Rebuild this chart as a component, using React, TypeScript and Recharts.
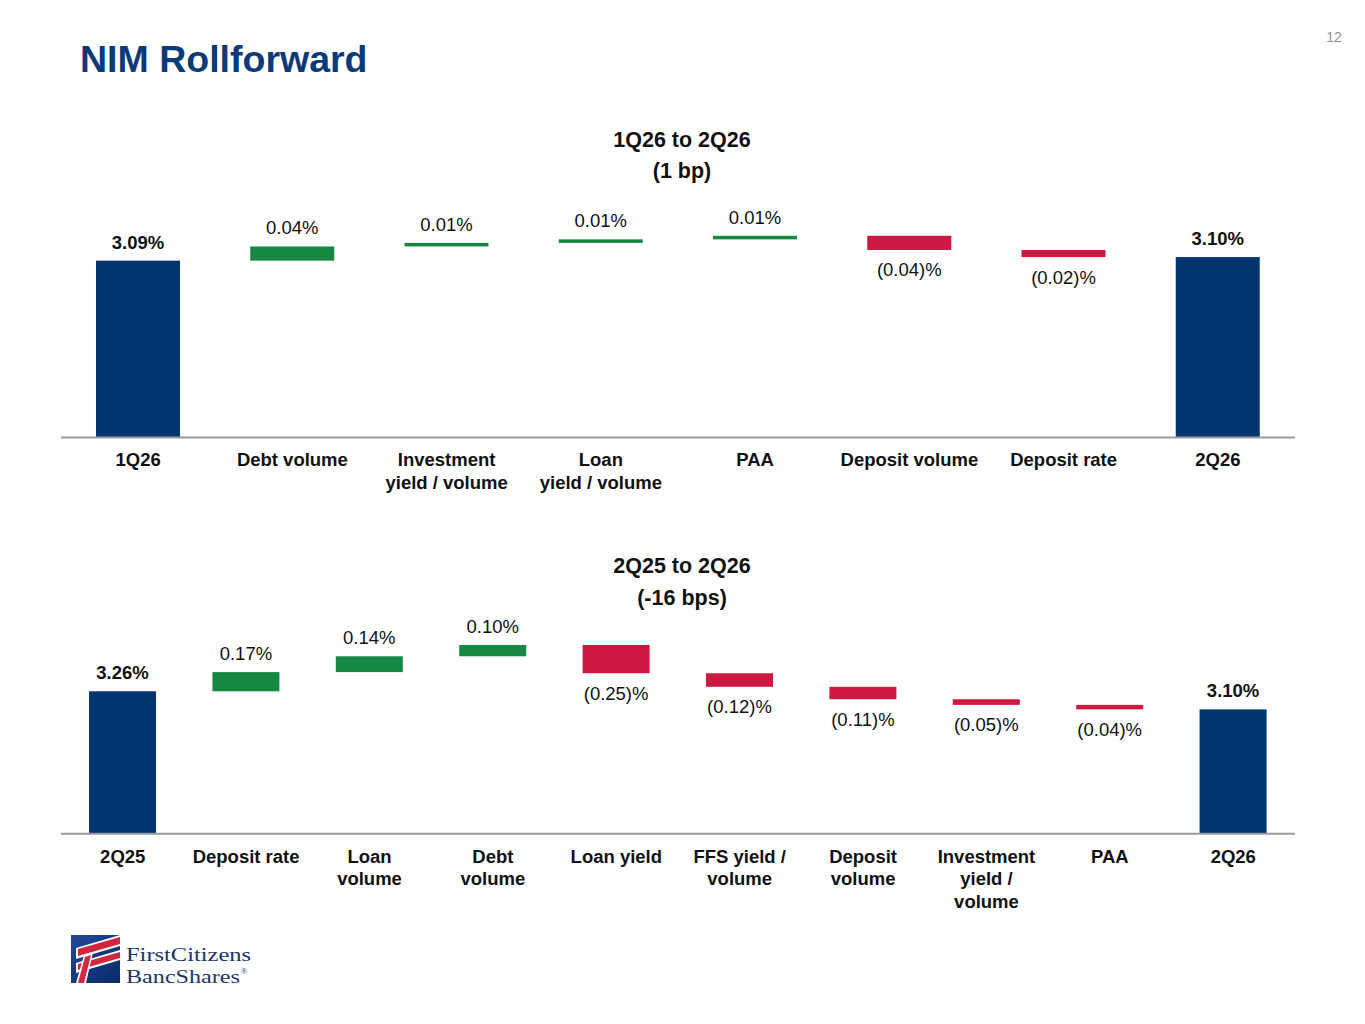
import React from "react";
import { BarChart, Bar, XAxis, YAxis } from "recharts";

const NAVY = "#003470";
const GREEN = "#178744";
const RED = "#CE1A42";
const TITLE_BLUE = "#0B3A78";
const FONT = '"Liberation Sans", Arial, Helvetica, sans-serif';

// 1Q26 to 2Q26
const qoqCategories = [
  "1Q26",
  "Debt volume",
  "Investment\nyield / volume",
  "Loan\nyield / volume",
  "PAA",
  "Deposit volume",
  "Deposit rate",
  "2Q26",
];
const qoqValues = [3.09, 0.04, 0.01, 0.01, 0.01, -0.04, -0.02, 3.1];
const qoqIsTotal = [true, false, false, false, false, false, false, true];

// 2Q25 to 2Q26
const yoyCategories = [
  "2Q25",
  "Deposit rate",
  "Loan\nvolume",
  "Debt\nvolume",
  "Loan yield",
  "FFS yield /\nvolume",
  "Deposit\nvolume",
  "Investment\nyield /\nvolume",
  "PAA",
  "2Q26",
];
const yoyValues = [3.26, 0.17, 0.14, 0.1, -0.25, -0.12, -0.11, -0.05, -0.04, 3.1];
const yoyIsTotal = [true, false, false, false, false, false, false, false, false, true];

type Step = {
  name: string;
  range: [number, number];
  kind: "total" | "up" | "down";
  label: string;
};

// running totals -> floating bars
const buildSteps = (cats: string[], vals: number[], isTotal: boolean[], yMin: number): Step[] => {
  let run = 0;
  return cats.map((name, i) => {
    const v = vals[i];
    if (isTotal[i]) {
      run = v;
      return { name, range: [yMin, v], kind: "total", label: `${v.toFixed(2)}%` };
    }
    const start = run;
    run = Math.round((run + v) * 10000) / 10000;
    return {
      name,
      range: [Math.min(start, run), Math.max(start, run)],
      kind: v >= 0 ? "up" : "down",
      label: v >= 0 ? `${v.toFixed(2)}%` : `(${Math.abs(v).toFixed(2)})%`,
    };
  });
};

const StepShape = (props: any) => {
  const { x, y, width, height, payload } = props;
  const top = Math.min(y, y + height);
  const h = Math.abs(height);
  const fill = payload.kind === "total" ? NAVY : payload.kind === "up" ? GREEN : RED;
  const below = payload.kind === "down";
  return (
    <g>
      <rect x={x} y={top} width={width} height={h} fill={fill} />
      <text
        x={x + width / 2}
        y={below ? top + h + 26.5 : top - 12}
        textAnchor="middle"
        fontFamily={FONT}
        fontSize={18.5}
        fontWeight={payload.kind === "total" ? 700 : 400}
        fill="#111"
      >
        {payload.label}
      </text>
    </g>
  );
};

const CategoryTick = (props: any) => {
  const { x, y, payload } = props;
  const lines = String(payload.value).split("\n");
  return (
    <text textAnchor="middle" fontFamily={FONT} fontSize={18.5} fontWeight={700} fill="#111">
      {lines.map((line, i) => (
        <tspan key={i} x={x} y={y + 29 + i * 22.8}>
          {line}
        </tspan>
      ))}
    </text>
  );
};

interface WaterfallProps {
  data: Step[];
  yMin: number;
  yMax: number;
  pxPerPct: number;
  baselineY: number;
  barSize: number;
}

const Waterfall = ({ data, yMin, yMax, pxPerPct, baselineY, barSize }: WaterfallProps) => {
  const plotH = (yMax - yMin) * pxPerPct;
  const marginTop = 20;
  const axisH = 100;
  return (
    <div style={{ position: "absolute", left: 0, top: baselineY - plotH - marginTop }}>
      <BarChart
        width={1365}
        height={marginTop + plotH + axisH}
        data={data}
        margin={{ top: marginTop, right: 70, bottom: 0, left: 61 }}
      >
        <XAxis
          dataKey="name"
          interval={0}
          tickLine={false}
          tickSize={0}
          tickMargin={0}
          axisLine={{ stroke: "#9b9b9b", strokeWidth: 2 }}
          tick={<CategoryTick />}
          height={axisH}
        />
        <YAxis hide type="number" domain={[yMin, yMax]} allowDataOverflow />
        <Bar dataKey="range" barSize={barSize} isAnimationActive={false} shape={<StepShape />} />
      </BarChart>
    </div>
  );
};

const Logo = () => (
  <g>
    <defs>
      <linearGradient id="logoBlue" x1="0" y1="0" x2="1" y2="1">
        <stop offset="0" stopColor="#24479a" />
        <stop offset="1" stopColor="#0a2a66" />
      </linearGradient>
    </defs>
    <rect x={71} y={935} width={49} height={48} fill="url(#logoBlue)" />
    <polygon points="76,948 120,935 120,946 76,959" fill="#fff" />
    <polygon points="78,949 120,937 120,944 78,956" fill="#d3263f" />
    <polygon points="76,963 120,950 120,960 76,973" fill="#fff" />
    <polygon points="78,964 120,952 120,958 78,970" fill="#d3263f" />
    <polygon points="84,955 93,952 86,983 76,983" fill="#fff" />
    <polygon points="85,957 91,955 84,983 78,983" fill="#d3263f" />
    <text
      x={126}
      y={961}
      fontFamily='"Liberation Serif", "DejaVu Serif", serif'
      fontSize={19.5}
      fill="#1a3668"
      textLength={125}
      lengthAdjust="spacingAndGlyphs"
    >
      FirstCitizens
    </text>
    <text
      x={126}
      y={983}
      fontFamily='"Liberation Serif", "DejaVu Serif", serif'
      fontSize={19.5}
      fill="#1a3668"
      textLength={114}
      lengthAdjust="spacingAndGlyphs"
    >
      BancShares
    </text>
    <text x={241} y={974} fontFamily='"Liberation Serif", serif' fontSize={8} fill="#1a3668">
      ®
    </text>
  </g>
);

export default function App() {
  const qoqMin = 2.592;
  const yoyMin = 2.0;
  const qoqData = buildSteps(qoqCategories, qoqValues, qoqIsTotal, qoqMin);
  const yoyData = buildSteps(yoyCategories, yoyValues, yoyIsTotal, yoyMin);

  return (
    <div
      style={{
        position: "absolute",
        left: 0,
        top: 0,
        width: 1365,
        height: 1024,
        background: "#fff",
        overflow: "hidden",
      }}
    >
      <svg width={1365} height={1024} style={{ position: "absolute", left: 0, top: 0 }}>
        <text x={80} y={72} fontFamily={FONT} fontSize={37.5} fontWeight={700} fill={TITLE_BLUE}>
          NIM Rollforward
        </text>
        <text x={1334} y={42} textAnchor="middle" fontFamily={FONT} fontSize={14} fill="#8f8f8f">
          12
        </text>
        <text x={682} y={147} textAnchor="middle" fontFamily={FONT} fontSize={21.5} fontWeight={700} fill="#111">
          1Q26 to 2Q26
        </text>
        <text x={682} y={178} textAnchor="middle" fontFamily={FONT} fontSize={21.5} fontWeight={700} fill="#111">
          (1 bp)
        </text>
        <text x={682} y={573} textAnchor="middle" fontFamily={FONT} fontSize={21.5} fontWeight={700} fill="#111">
          2Q25 to 2Q26
        </text>
        <text x={682} y={605} textAnchor="middle" fontFamily={FONT} fontSize={21.5} fontWeight={700} fill="#111">
          (-16 bps)
        </text>
        <Logo />
      </svg>
      <Waterfall data={qoqData} yMin={qoqMin} yMax={3.32} pxPerPct={355} baselineY={437.5} barSize={84} />
      <Waterfall data={yoyData} yMin={yoyMin} yMax={3.9} pxPerPct={113} baselineY={834} barSize={67} />
    </div>
  );
}
